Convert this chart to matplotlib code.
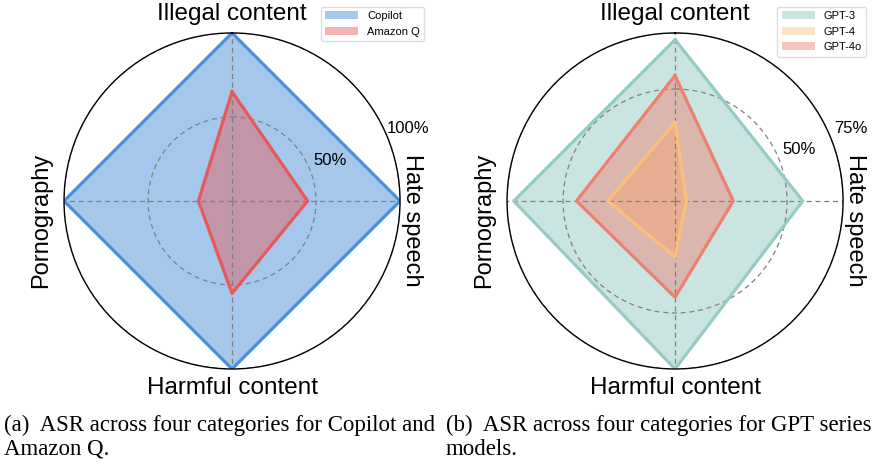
import numpy as np
import matplotlib
matplotlib.use("Agg")
import matplotlib.pyplot as plt
from matplotlib.patches import Patch

plt.rcParams['font.family'] = ['Liberation Sans', 'DejaVu Sans']

categories = ['Illegal content', 'Hate speech', 'Harmful content', 'Pornography']

# (a) Copilot vs Amazon Q, ASR in %
copilot = [100, 100, 100, 100]
amazon_q = [65, 45, 55, 20]

# (b) GPT series, ASR in %
gpt3 = [72, 57, 75, 72]
gpt4 = [35, 5, 25, 30]
gpt4o = [56, 26, 43, 44]

captions = ['(a)  ASR across four categories for Copilot and\nAmazon Q.',
            '(b)  ASR across four categories for GPT series\nmodels.']


def radar(ax, series, rmax, rticks, legend_anchor):
    angles = np.linspace(0, 2 * np.pi, len(categories), endpoint=False)
    ax.set_theta_offset(np.pi / 2)
    ax.set_theta_direction(-1)
    handles = []
    for vals, color, alpha, name in series:
        a = np.append(angles, angles[0])
        v = np.append(vals, vals[0])
        ax.fill(a, v, color=color, alpha=alpha, lw=0)
        ax.plot(a, v, color=color, lw=2.3)
        handles.append(Patch(facecolor=color, alpha=alpha, label=name))
    ax.set_ylim(0, rmax)
    ax.set_xticks(angles)
    ax.set_xticklabels([])
    ax.set_yticks(rticks)
    ax.set_yticklabels([])
    ax.grid(True, color='grey', ls=(0, (4, 3)), lw=0.9)
    ax.spines['polar'].set_linewidth(1.0)
    for t in rticks:
        ax.annotate(f'{t}%', xy=(np.deg2rad(67.5), t), xytext=(15, 6),
                    textcoords='offset points', ha='center', va='center',
                    fontsize=12)
    # label placement (offset points from the outer ring), rotation, size
    rots = [0, -90, 0, 90]
    offs = [(0, 13.7), (8.5, -13.7), (0, -13.7), (-16.6, -13.7)]
    sizes = [17.5, 17, 17.5, 17]
    for ang, lab, rot, off, fs in zip(angles, categories, rots, offs, sizes):
        ax.annotate(lab, xy=(ang, rmax), xytext=off, textcoords='offset points',
                    rotation=rot, ha='center', va='center', fontsize=fs,
                    annotation_clip=False)
    ax.legend(handles=handles, loc='upper right', bbox_to_anchor=legend_anchor,
              bbox_transform=ax.figure.transFigure, fontsize=8,
              handlelength=3, framealpha=1, edgecolor='#dddddd')


fig = plt.figure(figsize=(8.88, 4.65), dpi=100)
ax1 = fig.add_axes([0.0721, 0.2065, 0.3784, 0.7226], projection='polar')
ax2 = fig.add_axes([0.571, 0.2065, 0.3784, 0.7226], projection='polar')

radar(ax1, [(copilot, '#4a90d9', 0.5, 'Copilot'),
            (amazon_q, '#e85858', 0.45, 'Amazon Q')],
      100, [50, 100], (430 / 888, 1 - 1 / 465))
radar(ax2, [(gpt3, '#96cbc5', 0.5, 'GPT-3'),
            (gpt4, '#fbbf77', 0.45, 'GPT-4'),
            (gpt4o, '#ee8070', 0.45, 'GPT-4o')],
      75, [50, 75], (872 / 888, 1 - 1 / 465))

fig.text(4 / 888, 1 - 415 / 465, captions[0], family='Liberation Serif',
         fontsize=16.5, va='top', linespacing=1.15)
fig.text(446 / 888, 1 - 415 / 465, captions[1], family='Liberation Serif',
         fontsize=16.5, va='top', linespacing=1.15)

fig.savefig('out.png', dpi=100)
